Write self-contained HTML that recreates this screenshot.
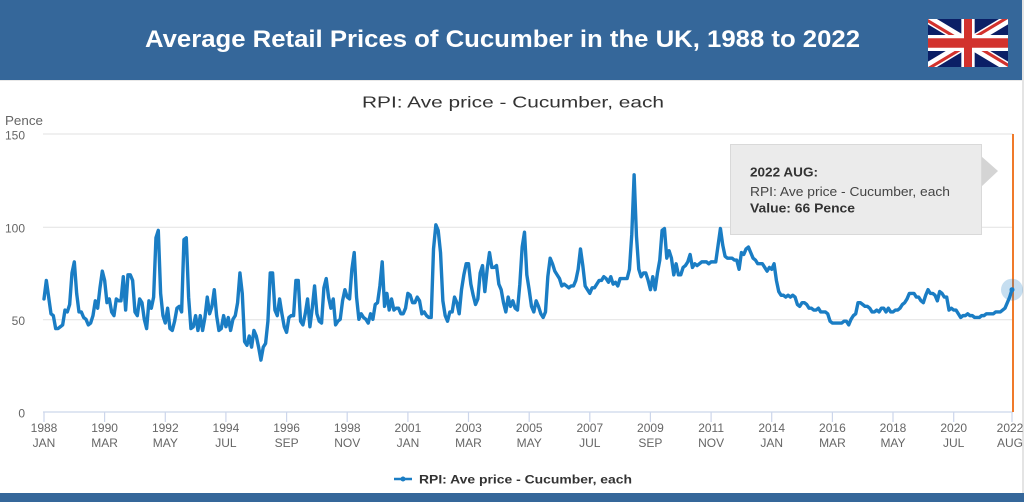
<!DOCTYPE html>
<html><head><meta charset="utf-8"><style>
html,body{margin:0;padding:0;background:#fff;width:1024px;height:502px;overflow:hidden}
svg{display:block}
</style></head><body>
<svg width="1024" height="502" viewBox="0 0 1024 502" xmlns="http://www.w3.org/2000/svg">
<rect x="0" y="0" width="1024" height="502" fill="#fff"/>
<!-- header -->
<rect x="0" y="0" width="1022" height="80" fill="#35679a"/>
<rect x="1022" y="0" width="2" height="493" fill="#e4e4e4"/>
<rect x="0" y="80" width="1022" height="1" fill="#e8e8e8"/>
<text x="145" y="47" font-family="Liberation Sans, Arial, sans-serif" font-weight="bold" font-size="24" fill="#fff" textLength="715" lengthAdjust="spacingAndGlyphs">Average Retail Prices of Cucumber in the UK, 1988 to 2022</text>
<!-- flag -->
<svg x="928" y="19" width="80" height="48" viewBox="0 0 60 30" preserveAspectRatio="none">
<clipPath id="s"><path d="M0,0 v30 h60 v-30 z"/></clipPath>
<clipPath id="t"><path d="M30,15 h30 v15 z v15 h-30 z h-30 v-15 z v-15 h30 z"/></clipPath>
<g clip-path="url(#s)">
<path d="M0,0 v30 h60 v-30 z" fill="#0b1f66"/>
<path d="M0,0 L60,30 M60,0 L0,30" stroke="#fff" stroke-width="6"/>
<path d="M0,0 L60,30 M60,0 L0,30" clip-path="url(#t)" stroke="#d2322d" stroke-width="4"/>
<path d="M30,0 v30 M0,15 h60" stroke="#fff" stroke-width="10"/>
<path d="M30,0 v30 M0,15 h60" stroke="#d2322d" stroke-width="6"/>
</g></svg>
<!-- subtitle -->
<text x="362" y="107.5" font-family="Liberation Sans, Arial, sans-serif" font-size="16" fill="#333" textLength="302" lengthAdjust="spacingAndGlyphs">RPI: Ave price - Cucumber, each</text>
<!-- y axis title -->
<text x="5" y="125" font-family="Liberation Sans, Arial, sans-serif" font-size="12.5" fill="#666" textLength="38" lengthAdjust="spacingAndGlyphs">Pence</text>
<!-- gridlines -->
<g stroke="#e6e6e6" stroke-width="1.2">
<line x1="43" y1="134" x2="1013" y2="134"/>
<line x1="43" y1="227.3" x2="1013" y2="227.3"/>
<line x1="43" y1="319.7" x2="1013" y2="319.7"/>
</g>
<g font-family="Liberation Sans, Arial, sans-serif" font-size="12" fill="#666" text-anchor="end">
<text x="25" y="139.3">150</text>
<text x="25" y="232.6">100</text>
<text x="25" y="325">50</text>
<text x="25" y="417.3">0</text>
</g>
<!-- x axis -->
<line x1="43" y1="412" x2="1013" y2="412" stroke="#ccd6eb" stroke-width="1.2"/>
<g stroke="#ccd6eb" stroke-width="1.2">
<line x1="44" y1="412" x2="44" y2="422"/>
<line x1="104.6" y1="412" x2="104.6" y2="422"/>
<line x1="165.3" y1="412" x2="165.3" y2="422"/>
<line x1="225.9" y1="412" x2="225.9" y2="422"/>
<line x1="286.6" y1="412" x2="286.6" y2="422"/>
<line x1="347.2" y1="412" x2="347.2" y2="422"/>
<line x1="407.9" y1="412" x2="407.9" y2="422"/>
<line x1="468.5" y1="412" x2="468.5" y2="422"/>
<line x1="529.2" y1="412" x2="529.2" y2="422"/>
<line x1="589.8" y1="412" x2="589.8" y2="422"/>
<line x1="650.4" y1="412" x2="650.4" y2="422"/>
<line x1="711.1" y1="412" x2="711.1" y2="422"/>
<line x1="771.7" y1="412" x2="771.7" y2="422"/>
<line x1="832.4" y1="412" x2="832.4" y2="422"/>
<line x1="893" y1="412" x2="893" y2="422"/>
<line x1="953.7" y1="412" x2="953.7" y2="422"/>
<line x1="1012" y1="412" x2="1012" y2="422"/>
</g>
<g font-family="Liberation Sans, Arial, sans-serif" font-size="12" fill="#666" text-anchor="middle">
<text x="44" y="432">1988</text><text x="44" y="447">JAN</text>
<text x="104.6" y="432">1990</text><text x="104.6" y="447">MAR</text>
<text x="165.3" y="432">1992</text><text x="165.3" y="447">MAY</text>
<text x="225.9" y="432">1994</text><text x="225.9" y="447">JUL</text>
<text x="286.6" y="432">1996</text><text x="286.6" y="447">SEP</text>
<text x="347.2" y="432">1998</text><text x="347.2" y="447">NOV</text>
<text x="407.9" y="432">2001</text><text x="407.9" y="447">JAN</text>
<text x="468.5" y="432">2003</text><text x="468.5" y="447">MAR</text>
<text x="529.2" y="432">2005</text><text x="529.2" y="447">MAY</text>
<text x="589.8" y="432">2007</text><text x="589.8" y="447">JUL</text>
<text x="650.4" y="432">2009</text><text x="650.4" y="447">SEP</text>
<text x="711.1" y="432">2011</text><text x="711.1" y="447">NOV</text>
<text x="771.7" y="432">2014</text><text x="771.7" y="447">JAN</text>
<text x="832.4" y="432">2016</text><text x="832.4" y="447">MAR</text>
<text x="893" y="432">2018</text><text x="893" y="447">MAY</text>
<text x="953.7" y="432">2020</text><text x="953.7" y="447">JUL</text>
<text x="1010" y="432">2022</text><text x="1010" y="447">AUG</text>
</g>
<!-- orange crosshair -->
<line x1="1013" y1="134" x2="1013" y2="412" stroke="#f07a2a" stroke-width="2"/>
<!-- series -->
<g transform="translate(44,412) scale(2.3325,-1.8533)">
<polyline fill="none" stroke="#1a7dc4" stroke-width="3.4" stroke-linejoin="round" stroke-linecap="round" vector-effect="non-scaling-stroke" points="0,61 1,71 2,62 3,53 4,52 5,45 6,45 7,46 8,47 9,55 10,54 11,58 12,75 13,81 14,64 15,54 16,54 17,51 18,50 19,47 20,48 21,52 22,60 23,56 24,67 25,76 26,71 27,59 28,61 29,54 30,52 31,61 32,60 33,60 34,73 35,55 36,74 37,74 38,71 39,54 40,52 41,61 42,59 43,50 44,45 45,60 46,56 47,62 48,94 49,98 50,64 51,52 52,48 53,56 54,45 55,44 56,49 57,56 58,57 59,54 60,93 61,94 62,62 63,45 64,46 65,52 66,44 67,52 68,44 69,51 70,62 71,53 72,57 73,66 74,52 75,44 76,45 77,52 78,46 79,51 80,44 81,50 82,52 83,59 84,75 85,64 86,38 87,36 88,41 89,35 90,44 91,41 92,35 93,28 94,35 95,37 96,49 97,75 98,75 99,55 100,52 101,61 102,53 103,46 104,43 105,51 106,52 107,52 108,71 109,71 110,49 111,47 112,53 113,61 114,46 115,56 116,68 117,53 118,49 119,48 120,67 121,72 122,62 123,56 124,61 125,47 126,49 127,50 128,60 129,66 130,62 131,61 132,77 133,86 134,62 135,50 136,53 137,51 138,50 139,48 140,53 141,50 142,58 143,59 144,68 145,81 146,57 147,64 148,55 149,61 150,55 151,56 152,56 153,53 154,53 155,56 156,64 157,63 158,59 159,59 160,62 161,60 162,53 163,54 164,52 165,51 166,51 167,88 168,101 169,98 170,86 171,60 172,52 173,49 174,54 175,54 176,62 177,59 178,53 179,66 180,74 181,80 182,80 183,69 184,63 185,58 186,61 187,75 188,79 189,65 190,77 191,86 192,78 193,78 194,79 195,69 196,66 197,59 198,54 199,62 200,57 201,60 202,56 203,55 204,69 205,89 206,97 207,74 208,66 209,57 210,54 211,60 212,57 213,53 214,51 215,54 216,73 217,83 218,80 219,76 220,74 221,72 222,68 223,69 224,68 225,67 226,68 227,68 228,71 229,77 230,88 231,79 232,68 233,66 234,64 235,67 236,67 237,69 238,71 239,71 240,73 241,72 242,70 243,73 244,69 245,70 246,68 247,72 248,72 249,72 250,72 251,77 252,96 253,128 254,95 255,77 256,73 257,75 258,75 259,71 260,66 261,73 262,66 263,75 264,82 265,98 266,99 267,83 268,87 269,83 270,74 271,80 272,74 273,74 274,78 275,79 276,81 277,85 278,78 279,80 280,79 281,80 282,81 283,81 284,81 285,80 286,81 287,81 288,81 289,90 290,99 291,90 292,84 293,83 294,83 295,83 296,82 297,82 298,77 299,86 300,85 301,88 302,89 303,86 304,83 305,82 306,80 307,80 308,80 309,78 310,76 311,78 312,77 313,80 314,71 315,65 316,63 317,63 318,62 319,63 320,62 321,63 322,62 323,58 324,57 325,59 326,59 327,58 328,56 329,56 330,55 331,55 332,56 333,54 334,54 335,54 336,53 337,49 338,48 339,48 340,48 341,48 342,48 343,49 344,49 345,47 346,50 347,52 348,53 349,59 350,59 351,58 352,57 353,57 354,56 355,54 356,54 357,55 358,54 359,56 360,56 361,54 362,56 363,54 364,54 365,55 366,55 367,56 368,58 369,59 370,61 371,64 372,64 373,64 374,62 375,62 376,60 377,59 378,63 379,66 380,64 381,64 382,63 383,60 384,65 385,64 386,62 387,62 388,55 389,56 390,55 391,55 392,53 393,51 394,52 395,52 396,53 397,52 398,52 399,51 400,51 401,51 402,52 403,52 404,53 405,53 406,53 407,53 408,54 409,54 410,54 411,55 412,56 413,59 414,62 415,66"/>
</g>
<!-- hover halo -->
<circle cx="1012" cy="289.7" r="11" fill="#1a7dc4" fill-opacity="0.25"/>
<circle cx="1012" cy="289.7" r="2.5" fill="#1a7dc4"/>
<!-- tooltip -->
<polygon points="981,156 998,171 981,187" fill="#d4d4d4"/>
<rect x="730.5" y="144.5" width="251" height="90" fill="#ebebeb" stroke="#d9d9d9" stroke-width="1"/>
<g font-family="Liberation Sans, Arial, sans-serif" font-size="13" fill="#333">
<text x="750" y="176.3" font-weight="bold" textLength="68" lengthAdjust="spacingAndGlyphs">2022 AUG:</text>
<text x="750" y="196" fill="#444" textLength="200" lengthAdjust="spacingAndGlyphs">RPI: Ave price - Cucumber, each</text>
<text x="750" y="212.3" font-weight="bold" textLength="105" lengthAdjust="spacingAndGlyphs">Value: 66 Pence</text>
</g>
<!-- legend -->
<line x1="394" y1="479" x2="412" y2="479" stroke="#1a7dc4" stroke-width="2.5"/>
<circle cx="403" cy="479" r="2.5" fill="#1a7dc4"/>
<text x="419" y="483.5" font-family="Liberation Sans, Arial, sans-serif" font-size="12" font-weight="bold" fill="#333" textLength="213" lengthAdjust="spacingAndGlyphs">RPI: Ave price - Cucumber, each</text>
<!-- bottom bar -->
<rect x="0" y="493" width="1024" height="9" fill="#35679a"/>
</svg>
</body></html>
